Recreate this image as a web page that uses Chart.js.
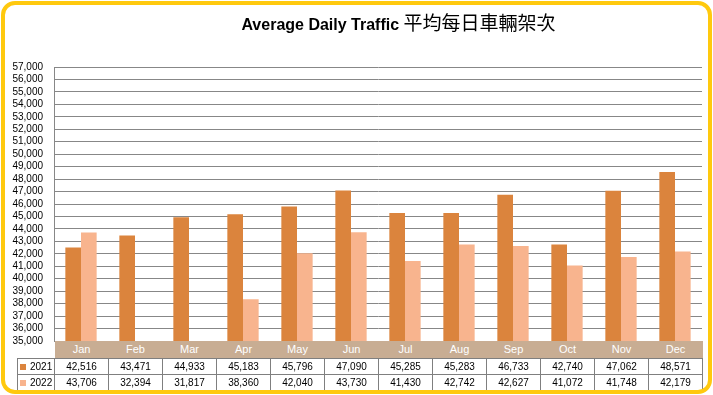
<!DOCTYPE html>
<html>
<head>
<meta charset="utf-8">
<script src="https://cdn.jsdelivr.net/npm/chart.js@4"></script>
<style>
    body { margin: 0; background: #fff; }
    #wrap { position: relative; width: 713px; height: 395px; overflow: hidden; background: #fff; }
    #frame {
        position: absolute; left: 1px; top: 1px; width: 711px; height: 393px;
        box-sizing: border-box; border: 4px solid #FFC90E; border-radius: 14px;
        pointer-events: none; z-index: 5;
    }
    #title {
        position: absolute; left: 0; top: 8px; width: 713px; padding-left: 84px; box-sizing: border-box;
        text-align: center; white-space: nowrap; color: #000;
        font-family: "Liberation Sans", Arial, sans-serif; font-size: 16px; font-weight: bold;
    }
    #title .zh { font-family: "Noto Sans CJK TC", sans-serif; font-weight: normal; font-size: 19px; }
    #chart { position: absolute; left: 0; top: 0; }
    #tbl {
        position: absolute; left: 17px; top: 341px; border-collapse: collapse; table-layout: fixed;
        font-family: "Liberation Sans", Arial, sans-serif; font-size: 10px; color: #000; z-index: 2;
    }
    #tbl td {
        padding: 0; text-align: center; border: 1px solid #7f7f7f; height: 15px; line-height: 15px;
        background: #fff; white-space: nowrap; overflow: hidden;
    }
    #tbl tr.head td { background: #C8AD93; color: #fff; border: none; height: 17px; line-height: 17px; font-size: 11px; }
    #tbl tr.head td.blank { background: transparent; }
    #tbl td.key { text-align: left; padding-left: 2px; }
    #tbl .sw { display: inline-block; width: 6px; height: 6px; margin-right: 4px; vertical-align: 0px; }
</style>
</head>
<body>
<div id="wrap">
    <canvas id="chart" width="713" height="358"></canvas>
    <div id="title">Average Daily Traffic <span class="zh">平均每日車輛架次</span></div>
    <table id="tbl"></table>
    <div id="frame"></div>
</div>
<script>
var months = ['Jan', 'Feb', 'Mar', 'Apr', 'May', 'Jun', 'Jul', 'Aug', 'Sep', 'Oct', 'Nov', 'Dec'];
var traffic2021 = [42516, 43471, 44933, 45183, 45796, 47090, 45285, 45283, 46733, 42740, 47062, 48571];
var traffic2022 = [43706, 32394, 31817, 38360, 42040, 43730, 41430, 42742, 42627, 41072, 41748, 42179];
var yMin = 35000, yMax = 57000, yStep = 1000;

var color2021 = '#DB843D';
var color2022 = '#F8B48E';

var ctx = document.getElementById('chart').getContext('2d');
var chart = new Chart(ctx, {
    type: 'bar',
    data: {
        labels: months,
        datasets: [
            { label: '2021', data: traffic2021, backgroundColor: color2021 },
            { label: '2022', data: traffic2022, backgroundColor: color2022 }
        ]
    },
    options: {
        responsive: false,
        animation: false,
        layout: { padding: { top: 67, right: 11, bottom: 9, left: 0 } },
        datasets: { bar: { categoryPercentage: 0.58, barPercentage: 1 } },
        plugins: { legend: { display: false }, title: { display: false }, tooltip: { enabled: false } },
        scales: {
            x: { display: false },
            y: {
                min: yMin,
                max: yMax,
                afterFit: function(scale) { scale.width = 54; },
                ticks: {
                    stepSize: yStep,
                    autoSkip: false,
                    padding: 11,
                    color: '#000',
                    font: { family: 'Liberation Sans, Arial, sans-serif', size: 10 },
                    callback: function(value) { return value.toLocaleString('en-US'); }
                },
                grid: { color: '#878787', lineWidth: 1, drawTicks: false },
                border: { color: '#878787' }
            }
        }
    }
});

// data table under the plot, lined up with the category slots
function buildTable() {
    var area = chart.chartArea;
    var colW = (area.right - area.left) / months.length;
    var keyW = area.left - 17;
    var tbl = document.getElementById('tbl');
    var html = '<colgroup><col style="width:' + keyW + 'px">';
    months.forEach(function() { html += '<col style="width:' + colW + 'px">'; });
    html += '</colgroup>';
    html += '<tr class="head"><td class="blank"></td>';
    months.forEach(function(m) { html += '<td>' + m + '</td>'; });
    html += '</tr>';
    [['2021', traffic2021, color2021], ['2022', traffic2022, color2022]].forEach(function(row) {
        html += '<tr><td class="key"><span class="sw" style="background:' + row[2] + '"></span>' + row[0] + '</td>';
        row[1].forEach(function(v) { html += '<td>' + v.toLocaleString('en-US') + '</td>'; });
        html += '</tr>';
    });
    tbl.innerHTML = html;
    tbl.style.top = area.bottom + 'px';
    tbl.style.width = (area.right - 17) + 'px';
}
buildTable();
</script>
</body>
</html>
